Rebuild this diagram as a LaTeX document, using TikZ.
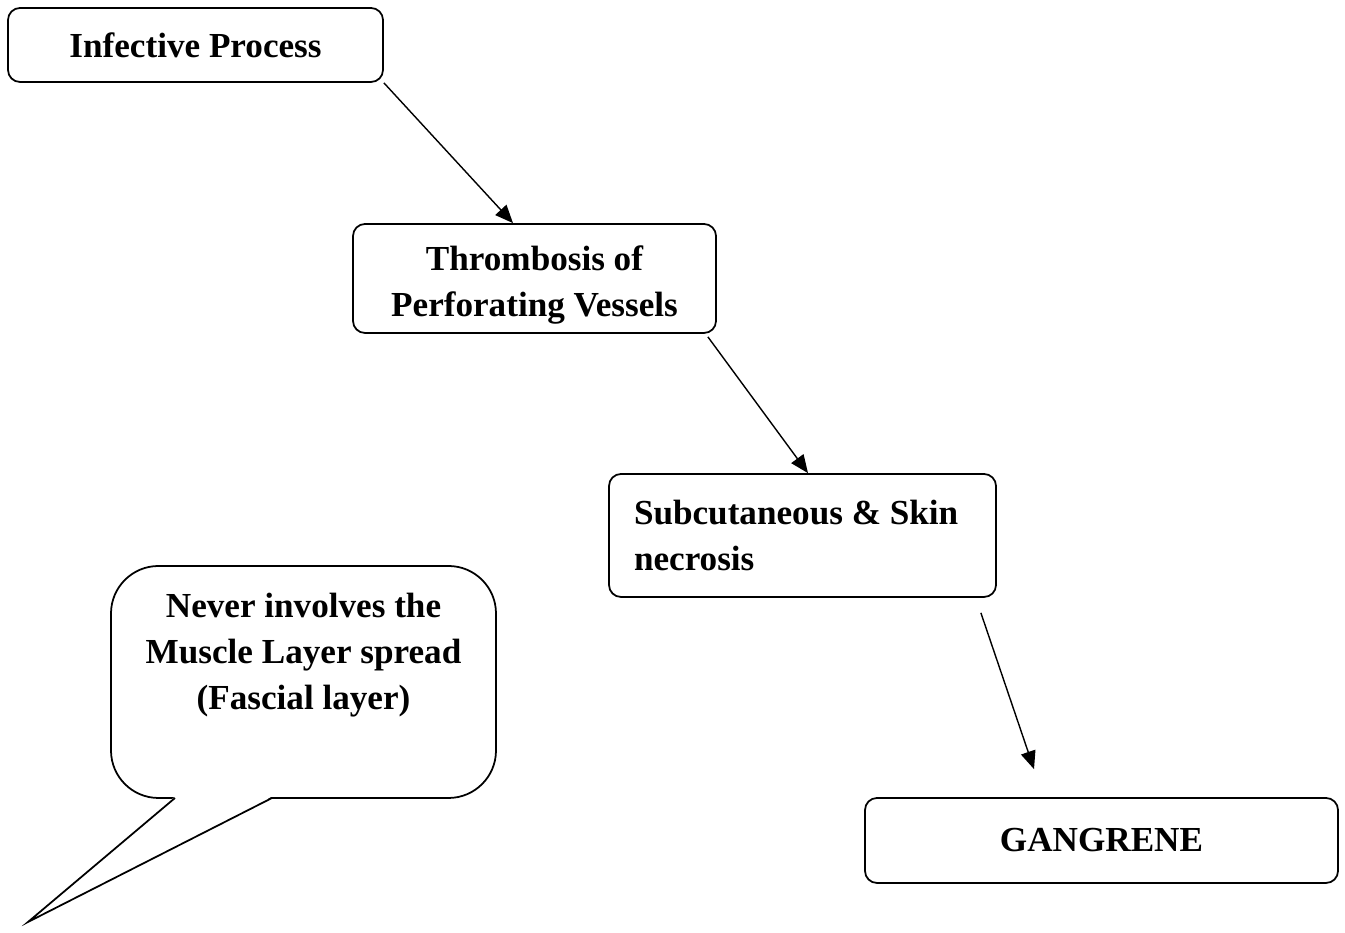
\documentclass[tikz,border=0pt]{standalone}
\usepackage{fontspec}
\setmainfont{Liberation Serif}
\usepackage{tikz}
\usetikzlibrary{arrows.meta,calc,positioning}
\tikzset{
  stepbox/.style={draw, line width=1pt, rounded corners=0.24cm, inner sep=0pt,
    font=\fontsize{20}{26}\selectfont\bfseries, align=center},
  flowArrow/.style={-{Triangle[length=0.36cm,width=0.3cm]}, line width=0.8pt},
  bubble/.style={draw, line width=1pt}
}
\begin{document}
\begin{tikzpicture}
  \useasboundingbox (0,0) rectangle (26.9,18.66);
  % chain of boxes
  \node[stepbox, minimum width=7.5cm, minimum height=1.48cm] (infect) at (3.91,17.76) {Infective Process};
  \node[stepbox, minimum width=7.26cm, minimum height=2.18cm] (thromb) at (10.69,13.09) {\rule{0pt}{21.7pt}Thrombosis of\\Perforating Vessels};
  \node[stepbox, minimum width=7.74cm, minimum height=2.46cm, align=flush left, text width=6.74cm, inner xsep=0.5cm] (necro) at (16.05,7.95) {Subcutaneous \& Skin\\necrosis};
  \node[stepbox, minimum width=9.46cm, minimum height=1.70cm] (gangrene) at (22.03,1.85) {GANGRENE};
  % arrows
  \draw[flowArrow] (infect.south east) -- ([xshift=-0.43cm]thromb.north);
  \draw[flowArrow] ([xshift=-0.18cm,yshift=-0.06cm]thromb.south east) -- ([xshift=0.11cm]necro.north);
  \coordinate (a3start) at ([xshift=-0.32cm,yshift=-0.3cm]necro.south east);
  \coordinate (a3end) at ([xshift=-1.35cm,yshift=0.56cm]gangrene.north);
  \draw[flowArrow] (a3start) -- (a3end);
  % speech bubble
  \draw[bubble, rounded corners=0.95cm] (2.22,2.7) rectangle (9.92,7.34);
  \coordinate (tailL) at (3.5,2.7);
  \coordinate (tailR) at (5.44,2.7);
  \coordinate (tip) at (0.56,0.22);
  \fill[white] ([yshift=0.8pt]tailL) -- (tip) -- ([yshift=0.8pt]tailR) -- cycle;
  \draw[bubble, line join=miter] (tailL) -- (tip) -- (tailR);
  \node[font=\fontsize{20}{26}\selectfont\bfseries, align=center] (note) at (6.07,5.56) {Never involves the\\Muscle Layer spread\\(Fascial layer)};
\end{tikzpicture}
\end{document}
